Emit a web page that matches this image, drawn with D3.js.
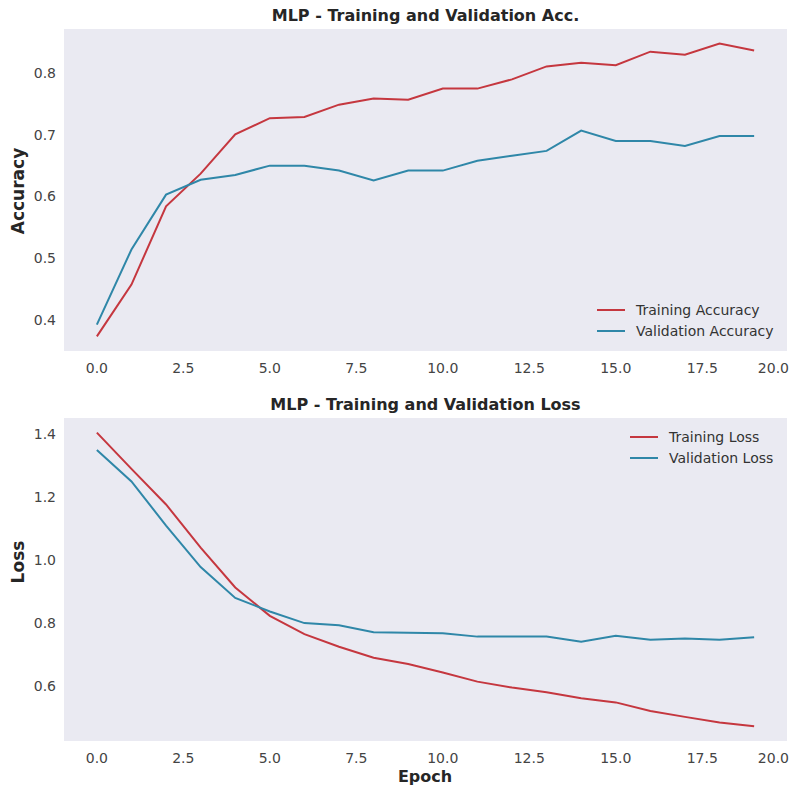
<!DOCTYPE html>
<html>
<head>
<meta charset="utf-8">
<script src="https://cdn.jsdelivr.net/npm/d3@7"></script>
<style>
  body { margin: 0; background: #fff; }
  text { font-family: "DejaVu Sans", sans-serif; }
</style>
</head>
<body>
<div id="chart"></div>
<script>
// Epochs and per-epoch values
const epochs = d3.range(0, 20);
const trainAcc = [0.373, 0.457, 0.584, 0.637, 0.701, 0.727, 0.729, 0.749, 0.759, 0.757,
                  0.775, 0.775, 0.790, 0.811, 0.817, 0.813, 0.835, 0.830, 0.848, 0.837];
const valAcc = [0.392, 0.514, 0.603, 0.627, 0.635, 0.650, 0.650, 0.642, 0.626, 0.642,
                0.642, 0.658, 0.666, 0.674, 0.707, 0.690, 0.690, 0.682, 0.698, 0.698];
const trainLoss = [1.405, 1.290, 1.177, 1.040, 0.913, 0.823, 0.765, 0.725, 0.690, 0.670,
                   0.643, 0.614, 0.595, 0.580, 0.561, 0.548, 0.521, 0.502, 0.484, 0.472];
const valLoss = [1.350, 1.250, 1.110, 0.978, 0.880, 0.837, 0.800, 0.793, 0.771, 0.769,
                 0.768, 0.757, 0.757, 0.757, 0.741, 0.760, 0.747, 0.751, 0.747, 0.755];
const xTicks = [0, 2.5, 5, 7.5, 10, 12.5, 15, 17.5, 20];
const accTicks = [0.4, 0.5, 0.6, 0.7, 0.8];
const lossTicks = [0.6, 0.8, 1.0, 1.2, 1.4];

const width = 793, height = 787;
const red = "#c5373f", blue = "#2f87a8";

const svg = d3.select("#chart").append("svg")
    .attr("width", width)
    .attr("height", height);

// matplotlib-style 5% margins
function padded(lo, hi) {
    const m = (hi - lo) * 0.05;
    return [lo - m, hi + m];
}

const x = d3.scaleLinear()
    .domain(padded(0, 19))
    .range([64, 787]);

function panel(cfg) {
    const all = cfg.series.flatMap(s => s.values);
    const y = d3.scaleLinear().domain(padded(d3.min(all), d3.max(all))).range([cfg.bottom, cfg.top]);
    const g = svg.append("g");

    g.append("rect")
        .attr("x", x.range()[0])
        .attr("y", cfg.top)
        .attr("width", x.range()[1] - x.range()[0])
        .attr("height", cfg.bottom - cfg.top)
        .attr("fill", "#eaeaf2");

    // x tick labels
    g.append("g").selectAll("text")
        .data(xTicks)
        .enter().append("text")
        .attr("x", d => d === 20 ? 789 : x(d))
        .attr("y", cfg.bottom + 17)
        .attr("text-anchor", d => d === 20 ? "end" : "middle")
        .attr("dominant-baseline", "central")
        .attr("font-size", 14)
        .attr("fill", "#444")
        .text(d => d3.format(".1f")(d));

    // y tick labels
    g.append("g").selectAll("text")
        .data(cfg.yTicks)
        .enter().append("text")
        .attr("x", 56)
        .attr("y", d => y(d))
        .attr("text-anchor", "end")
        .attr("dominant-baseline", "central")
        .attr("font-size", 14)
        .attr("fill", "#444")
        .text(d => d3.format(".1f")(d));

    g.append("text")
        .attr("x", (x.range()[0] + x.range()[1]) / 2)
        .attr("y", cfg.top - 14)
        .attr("text-anchor", "middle")
        .attr("dominant-baseline", "central")
        .attr("font-size", 16)
        .attr("font-weight", "bold")
        .attr("fill", "#262626")
        .text(cfg.title);

    g.append("text")
        .attr("transform", `translate(18,${cfg.labelY}) rotate(-90)`)
        .attr("text-anchor", "middle")
        .attr("dominant-baseline", "central")
        .attr("font-size", 17)
        .attr("font-weight", "bold")
        .attr("fill", "#262626")
        .text(cfg.yLabel);

    const line = d3.line()
        .x((d, i) => x(epochs[i]))
        .y(d => y(d));

    cfg.series.forEach(s => {
        g.append("path")
            .datum(s.values)
            .attr("d", line)
            .attr("fill", "none")
            .attr("stroke", s.color)
            .attr("stroke-width", 2);
    });

    // legend
    const lg = g.append("g");
    cfg.series.forEach((s, i) => {
        const ly = cfg.legendY + i * 21;
        lg.append("line")
            .attr("x1", cfg.legendX).attr("x2", cfg.legendX + 28)
            .attr("y1", ly).attr("y2", ly)
            .attr("stroke", s.color)
            .attr("stroke-width", 2);
        lg.append("text")
            .attr("x", cfg.legendX + 39)
            .attr("y", ly)
            .attr("dominant-baseline", "central")
            .attr("font-size", 14)
            .attr("fill", "#333")
            .text(s.name);
    });
}

panel({
    top: 29, bottom: 351,
    title: "MLP - Training and Validation Acc.",
    yLabel: "Accuracy", labelY: 191,
    yTicks: accTicks,
    legendX: 597, legendY: 310,
    series: [
        {name: "Training Accuracy", values: trainAcc, color: red},
        {name: "Validation Accuracy", values: valAcc, color: blue}
    ]
});

panel({
    top: 418, bottom: 741,
    title: "MLP - Training and Validation Loss",
    yLabel: "Loss", labelY: 562,
    yTicks: lossTicks,
    legendX: 630, legendY: 437,
    series: [
        {name: "Training Loss", values: trainLoss, color: red},
        {name: "Validation Loss", values: valLoss, color: blue}
    ]
});

svg.append("text")
    .attr("x", 425)
    .attr("y", 776)
    .attr("text-anchor", "middle")
    .attr("dominant-baseline", "central")
    .attr("font-size", 16)
    .attr("font-weight", "bold")
    .attr("fill", "#262626")
    .text("Epoch");
</script>
</body>
</html>
